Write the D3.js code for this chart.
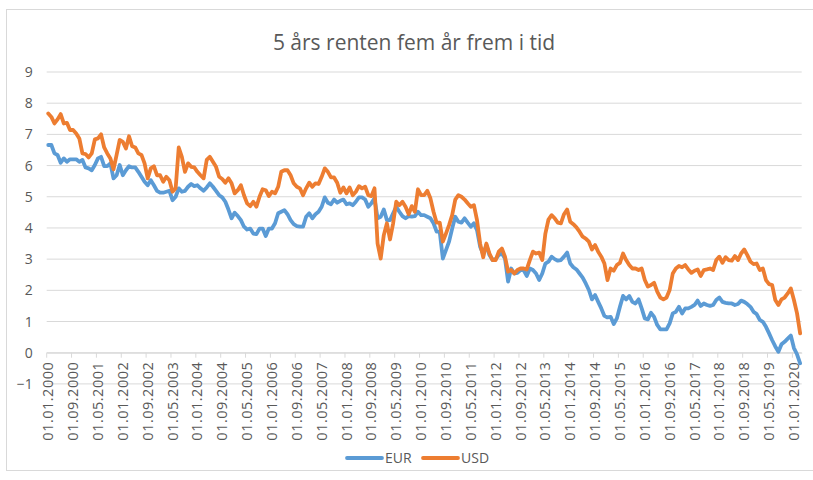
<!DOCTYPE html>
<html>
<head>
<meta charset="utf-8">
<script src="https://cdn.jsdelivr.net/npm/d3@7"></script>
<style>
  body { margin: 0; background: #fff; }
  text { font-family: "Open Sans", "Noto Sans", sans-serif; fill: #595959; }
</style>
</head>
<body>
<svg id="chart" width="813" height="480"></svg>
<script>
// data: monthly values, 01.01.2000 - 01.03.2020
const eur = [
  6.66, 6.66, 6.39, 6.34, 6.09, 6.23, 6.12, 6.20, 6.20, 6.20, 6.12, 6.18,
  5.94, 5.91, 5.85, 6.02, 6.23, 6.28, 5.98, 5.98, 6.07, 5.59, 5.69, 6.02,
  5.69, 5.85, 5.98, 5.94, 5.94, 5.80, 5.64, 5.48, 5.37, 5.53, 5.37, 5.19,
  5.13, 5.13, 5.16, 5.19, 4.89, 5.00, 5.27, 5.16, 5.19, 5.32, 5.41, 5.34,
  5.37, 5.27, 5.19, 5.30, 5.43, 5.32, 5.19, 5.05, 4.98, 4.84, 4.59, 4.31,
  4.49, 4.38, 4.25, 4.04, 3.95, 3.98, 3.82, 3.80, 3.98, 3.98, 3.74, 3.98,
  3.98, 4.15, 4.47, 4.52, 4.57, 4.44, 4.25, 4.12, 4.06, 4.04, 4.04, 4.36,
  4.47, 4.31, 4.44, 4.52, 4.68, 4.98, 4.81, 4.76, 4.91, 4.81, 4.87, 4.91,
  4.76, 4.79, 4.73, 4.84, 4.98, 4.98, 4.91, 4.68, 4.79, 4.95, 4.31, 4.36,
  4.59, 4.25, 4.25, 4.47, 4.68, 4.52, 4.38, 4.31, 4.38, 4.36, 4.38, 4.52,
  4.41, 4.41, 4.36, 4.31, 4.15, 3.88, 3.88, 3.02, 3.29, 3.56, 3.98, 4.36,
  4.20, 4.17, 4.31, 4.17, 4.04, 4.15, 3.93, 3.40, 3.16, 3.45, 3.13, 2.97,
  3.00, 3.13, 3.18, 3.02, 2.28, 2.70, 2.54, 2.56, 2.65, 2.65, 2.46, 2.70,
  2.65, 2.54, 2.33, 2.54, 2.86, 2.92, 3.08, 3.00, 2.95, 2.97, 3.08, 3.21,
  2.86, 2.74, 2.67, 2.54, 2.41, 2.22, 2.01, 1.71, 1.85, 1.63, 1.42, 1.18,
  1.13, 1.15, 0.92, 1.10, 1.47, 1.82, 1.71, 1.82, 1.63, 1.58, 1.71, 1.42,
  1.10, 1.07, 1.28, 1.15, 0.89, 0.75, 0.75, 0.75, 0.94, 1.26, 1.31, 1.47,
  1.26, 1.42, 1.42, 1.47, 1.53, 1.67, 1.50, 1.58, 1.53, 1.50, 1.53, 1.69,
  1.77, 1.63, 1.60, 1.58, 1.58, 1.53, 1.56, 1.67, 1.63, 1.56, 1.47, 1.31,
  1.24, 1.05, 0.99, 0.83, 0.62, 0.40, 0.20, 0.03, 0.27, 0.35, 0.45, 0.55,
  0.15, -0.05, -0.34
];
const usd = [
  7.67, 7.56, 7.35, 7.48, 7.65, 7.35, 7.37, 7.14, 7.14, 7.03, 6.87, 6.39,
  6.37, 6.26, 6.39, 6.84, 6.87, 7.00, 6.58, 6.39, 6.23, 5.88, 6.34, 6.82,
  6.76, 6.55, 6.94, 6.62, 6.58, 6.39, 6.34, 6.07, 5.59, 5.91, 5.98, 5.69,
  5.69, 5.48, 5.64, 5.53, 5.16, 5.27, 6.58, 6.28, 5.80, 6.07, 5.96, 5.94,
  5.80, 5.69, 5.59, 6.18, 6.28, 6.12, 5.96, 5.64, 5.57, 5.45, 5.59, 5.43,
  5.11, 5.21, 5.37, 5.05, 4.79, 4.70, 4.84, 4.68, 5.00, 5.24, 5.21, 5.02,
  5.16, 5.11, 5.32, 5.80, 5.85, 5.85, 5.69, 5.43, 5.32, 5.27, 5.05, 5.27,
  5.45, 5.32, 5.43, 5.41, 5.64, 5.91, 5.80, 5.62, 5.62, 5.45, 5.13, 5.30,
  5.11, 5.30, 5.05, 5.16, 5.34, 5.27, 5.32, 5.05, 5.02, 5.27, 3.50, 3.02,
  3.77, 4.15, 3.63, 4.15, 4.84, 4.73, 4.84, 4.68, 4.44, 4.70, 4.52, 5.24,
  5.05, 5.05, 5.19, 4.95, 4.52, 4.17, 4.17, 3.56, 3.82, 4.09, 4.41, 4.91,
  5.05, 5.00, 4.91, 4.79, 4.68, 4.73, 4.25, 3.50, 3.06, 3.50, 3.18, 2.97,
  2.97, 3.24, 3.34, 3.08, 2.60, 2.65, 2.54, 2.65, 2.70, 2.70, 2.67, 2.97,
  3.24, 3.18, 3.21, 2.97, 3.82, 4.27, 4.41, 4.31, 4.17, 4.15, 4.44, 4.59,
  4.20, 4.12, 4.02, 3.88, 3.72, 3.66, 3.56, 3.31, 3.45, 3.24, 3.08, 2.86,
  2.33, 2.70, 2.63, 2.81, 2.88, 3.18, 2.97, 2.81, 2.70, 2.70, 2.65, 2.70,
  2.33, 2.12, 2.17, 2.24, 1.96, 1.77, 1.71, 1.77, 2.01, 2.54, 2.70, 2.78,
  2.74, 2.81, 2.67, 2.56, 2.63, 2.67, 2.46, 2.65, 2.67, 2.70, 2.65, 2.97,
  3.08, 2.88, 3.06, 2.97, 2.95, 3.10, 2.97, 3.18, 3.31, 3.13, 2.92, 2.84,
  2.86, 2.65, 2.70, 2.33, 2.20, 2.17, 1.69, 1.53, 1.71, 1.77, 1.90, 2.06,
  1.69, 1.26, 0.62
];

// category labels: one per month
const months = d3.range(eur.length).map(i => {
  const yr = 2000 + Math.floor(i / 12);
  const m = (i % 12) + 1;
  return "01." + String(m).padStart(2, "0") + "." + yr;
});
const tickLabels = months.filter((d, i) => i % 8 === 0);
const yTicks = d3.range(-1, 10);

const series = [
  { name: "EUR", values: eur, color: "#5B9BD5" },
  { name: "USD", values: usd, color: "#ED7D31" }
];

const svg = d3.select("#chart");
const plotLeft = 46.7, plotRight = 801.7, plotTop = 72, plotBottom = 383.9;

// outer frame
svg.append("rect")
  .attr("x", 6.5).attr("y", 9.5)
  .attr("width", 812).attr("height", 461)
  .attr("fill", "#fff")
  .attr("stroke", "#d9d9d9");

const x = d3.scaleBand().domain(months).range([plotLeft, plotRight]).padding(0);
const y = d3.scaleLinear().domain([-1, 9]).range([plotBottom, plotTop]);

// title
svg.append("text")
  .attr("x", 414)
  .attr("y", 50)
  .attr("text-anchor", "middle")
  .attr("font-size", "21px")
  .text("5 års renten fem år frem i tid");

// gridlines
svg.append("g")
  .selectAll("line")
  .data(yTicks)
  .join("line")
  .attr("x1", plotLeft).attr("x2", plotRight)
  .attr("y1", d => y(d)).attr("y2", d => y(d))
  .attr("stroke", "#d9d9d9")
  .attr("stroke-width", 1);

// y axis labels
const yAxis = svg.append("g")
  .attr("transform", `translate(${plotLeft},0)`)
  .call(d3.axisLeft(y).tickValues(yTicks).tickSize(0).tickPadding(14).tickFormat(d3.format("d")));
yAxis.select(".domain").remove();
yAxis.selectAll("text")
  .attr("font-size", "14px")
  .style("font-family", "'Open Sans', sans-serif")
  .attr("fill", "#595959");

// x axis at 0
const xAxis = svg.append("g")
  .attr("transform", `translate(0,${y(0)})`)
  .call(d3.axisBottom(x).tickValues(tickLabels).tickSize(0).tickPadding(0));
xAxis.select(".domain")
  .attr("stroke", "#d9d9d9");
xAxis.selectAll("text")
  .attr("font-size", "14.5px")
  .style("font-family", "'Open Sans', sans-serif")
  .style("letter-spacing", "0.5px")
  .attr("fill", "#595959")
  .attr("transform", "rotate(-90)")
  .attr("text-anchor", "end")
  .attr("x", -9)
  .attr("y", 0)
  .attr("dy", "0.35em");

// tick marks at category boundaries
svg.append("g")
  .selectAll("line")
  .data(tickLabels)
  .join("line")
  .attr("x1", d => x(d)).attr("x2", d => x(d))
  .attr("y1", y(0)).attr("y2", y(0) + 5)
  .attr("stroke", "#d9d9d9");

// lines
const line = d3.line()
  .x((d, i) => x(months[i]) + x.bandwidth() / 2)
  .y(d => y(d));

svg.append("g")
  .selectAll("path")
  .data(series)
  .join("path")
  .attr("d", d => line(d.values))
  .attr("fill", "none")
  .attr("stroke", d => d.color)
  .attr("stroke-width", 3.8)
  .attr("stroke-linejoin", "round")
  .attr("stroke-linecap", "round");

// legend
const legendX = [347, 423];
const legend = svg.append("g")
  .selectAll("g")
  .data(series)
  .join("g")
  .attr("transform", (d, i) => `translate(${legendX[i]},458)`);
legend.append("line")
  .attr("x1", 0).attr("x2", 35)
  .attr("y1", 0).attr("y2", 0)
  .attr("stroke", d => d.color)
  .attr("stroke-width", 3.8)
  .attr("stroke-linecap", "round");
legend.append("text")
  .attr("x", 38)
  .attr("y", 0)
  .attr("dy", "0.35em")
  .attr("font-size", "14px")
  .text(d => d.name);
</script>
</body>
</html>
